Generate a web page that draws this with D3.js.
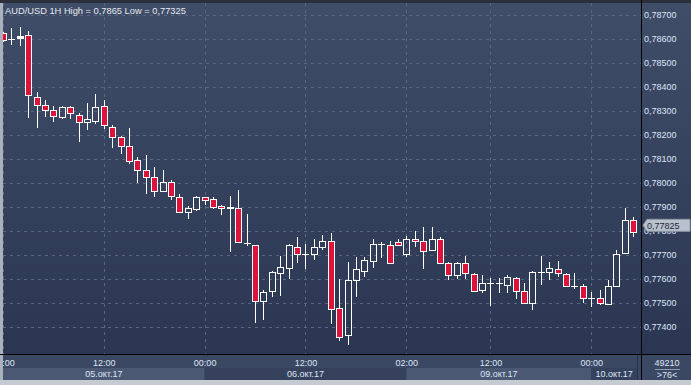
<!DOCTYPE html>
<html>
<head>
<meta charset="utf-8">
<script src="https://cdn.jsdelivr.net/npm/d3@7"></script>
<style>
  body { margin: 0; background: #c6cbd3; }
  svg { display: block; font-family: "Liberation Sans", Arial, sans-serif; }
</style>
</head>
<body>
<div id="chart"></div>
<script>
// AUD/USD 1H candles, hourly bars
const title = "AUD/USD 1H High = 0,7865 Low = 0,77325";

const open = [0.78625,0.78600,0.78604,0.78617,0.78358,0.78325,0.78304,0.78275,0.78317,0.78283,
  0.78254,0.78257,0.78321,0.78233,0.78192,0.78154,0.78096,0.78054,0.78025,0.77966,
  0.78004,0.77942,0.77879,0.77892,0.77942,0.77933,0.77904,0.77897,0.77896,0.77750,
  0.77740,0.77508,0.77550,0.77625,0.77644,0.77733,0.77704,0.77704,0.77733,0.77758,
  0.77479,0.77367,0.77596,0.77633,0.77675,0.77746,0.77742,0.77754,0.77704,0.77767,
  0.77758,0.77721,0.77767,0.77667,0.77617,0.77667,0.77621,0.77554,0.77583,0.77583,
  0.77575,0.77604,0.77550,0.77500,0.77629,0.77629,0.77642,0.77621,0.77571,0.77571,
  0.77519,0.77521,0.77496,0.77571,0.77708,0.77846];
const high = [0.78630,0.78646,0.78650,0.78635,0.78380,0.78347,0.78322,0.78322,0.78322,0.78292,
  0.78333,0.78372,0.78347,0.78243,0.78197,0.78229,0.78110,0.78118,0.78067,0.78055,
  0.78012,0.77955,0.77905,0.77946,0.77942,0.77942,0.77908,0.77946,0.77971,0.77871,
  0.77743,0.77554,0.77633,0.77696,0.77747,0.77775,0.77746,0.77767,0.77783,0.77792,
  0.77600,0.77671,0.77692,0.77692,0.77769,0.77755,0.77758,0.77767,0.77782,0.77800,
  0.77818,0.77817,0.77778,0.77673,0.77673,0.77696,0.77625,0.77617,0.77604,0.77604,
  0.77618,0.77608,0.77583,0.77633,0.77696,0.77671,0.77675,0.77625,0.77625,0.77579,
  0.77546,0.77554,0.77596,0.77721,0.77896,0.77858];
const low = [0.78590,0.78576,0.78573,0.78273,0.78232,0.78278,0.78257,0.78269,0.78267,0.78173,
  0.78223,0.78248,0.78225,0.78148,0.78123,0.78079,0.78002,0.77957,0.77941,0.77966,
  0.77932,0.77875,0.77852,0.77883,0.77908,0.77895,0.77866,0.77715,0.77750,0.77740,
  0.77419,0.77432,0.77525,0.77532,0.77602,0.77667,0.77644,0.77679,0.77721,0.77415,
  0.77344,0.77325,0.77525,0.77608,0.77646,0.77690,0.77667,0.77742,0.77694,0.77733,
  0.77644,0.77721,0.77667,0.77596,0.77600,0.77600,0.77548,0.77542,0.77490,0.77542,
  0.77542,0.77517,0.77500,0.77471,0.77575,0.77596,0.77608,0.77567,0.77558,0.77500,
  0.77483,0.77492,0.77496,0.77571,0.77704,0.77775];
const close = [0.78596,0.78600,0.78610,0.78367,0.78325,0.78304,0.78279,0.78317,0.78290,0.78254,
  0.78267,0.78317,0.78242,0.78192,0.78153,0.78092,0.78054,0.78024,0.77966,0.78004,
  0.77945,0.77879,0.77896,0.77942,0.77929,0.77900,0.77896,0.77897,0.77754,0.77750,
  0.77508,0.77546,0.77629,0.77650,0.77742,0.77704,0.77704,0.77733,0.77758,0.77475,
  0.77358,0.77596,0.77642,0.77679,0.77746,0.77746,0.77667,0.77742,0.77767,0.77758,
  0.77717,0.77767,0.77667,0.77617,0.77667,0.77625,0.77550,0.77583,0.77583,0.77583,
  0.77608,0.77550,0.77500,0.77629,0.77629,0.77646,0.77625,0.77571,0.77571,0.77521,
  0.77519,0.77500,0.77571,0.77704,0.77846,0.77796];

const lastPrice = 0.77825;
const priceTicks = [0.787,0.786,0.785,0.784,0.783,0.782,0.781,0.780,0.779,0.778,0.777,0.776,0.775,0.774];
const timeTicks = [0, 12, 24, 36, 48, 58, 70];
const timeLabels = ["00:00","12:00","00:00","12:00","02:00","12:00","00:00"];
const dayStarts = [0, 24, 48, 70];
const dayLabels = ["05.окт.17","06.окт.17","09.окт.17","10.окт.17"];
const volumeText = "49210";
const zoomText = ">76<";

const W = 691, H = 385;
const plot = { left: 3, top: 3, right: 641, bottom: 354 };

const svg = d3.select("#chart").append("svg")
  .attr("width", W).attr("height", H);

const defs = svg.append("defs");
const grad = defs.append("linearGradient").attr("id", "bg")
  .attr("x1", 0).attr("y1", 0).attr("x2", 0).attr("y2", 1);
grad.append("stop").attr("offset", "0%").attr("stop-color", "#404d68");
grad.append("stop").attr("offset", "100%").attr("stop-color", "#2b3752");
defs.append("clipPath").attr("id", "clip").append("rect")
  .attr("x", plot.left).attr("y", plot.top)
  .attr("width", plot.right - plot.left).attr("height", plot.bottom - plot.top);

// frame
svg.append("rect").attr("width", W).attr("height", H).attr("fill", "#c6cbd3");
svg.append("rect").attr("x", plot.left).attr("y", plot.top)
  .attr("width", W - plot.left).attr("height", plot.bottom - plot.top)
  .attr("fill", "url(#bg)");

// scales
const x = d3.scaleLinear().domain([0, open.length - 1]).range([2.9, 633.3]);
const y = d3.scaleLinear().domain([0.774, 0.787]).range([327.3, 15.3]);
const fmt = v => d3.format(".5f")(v).replace(".", ",");

// grid
const grid = svg.append("g").attr("clip-path", "url(#clip)")
  .attr("stroke", "#5a6783").attr("stroke-dasharray", "3,4").attr("shape-rendering", "crispEdges");
grid.selectAll("line.h").data(priceTicks).join("line").attr("class", "h")
  .attr("x1", plot.left).attr("x2", plot.right)
  .attr("y1", d => Math.round(y(d)) + 0.5).attr("y2", d => Math.round(y(d)) + 0.5);
grid.selectAll("line.v").data(timeTicks).join("line").attr("class", "v")
  .attr("y1", plot.top).attr("y2", plot.bottom)
  .attr("x1", d => Math.round(x(d)) + 0.5).attr("x2", d => Math.round(x(d)) + 0.5);

// candles: upper and lower wick separately so hollow bodies stay empty
const idx = d3.range(open.length);
const bw = 5.6;
const cx = i => Math.round(x(i)) + 0.5;
const cg = svg.append("g").attr("clip-path", "url(#clip)").attr("shape-rendering", "crispEdges");
cg.selectAll("line.up").data(idx).join("line").attr("class", "up")
  .attr("x1", cx).attr("x2", cx)
  .attr("y1", i => y(high[i])).attr("y2", i => y(Math.max(open[i], close[i])))
  .attr("stroke", "#ffffff");
cg.selectAll("line.dn").data(idx).join("line").attr("class", "dn")
  .attr("x1", cx).attr("x2", cx)
  .attr("y1", i => y(Math.min(open[i], close[i]))).attr("y2", i => y(low[i]))
  .attr("stroke", "#ffffff");
cg.selectAll("rect").data(idx).join("rect")
  .attr("x", i => cx(i) - bw / 2)
  .attr("width", bw)
  .attr("y", i => y(Math.max(open[i], close[i])))
  .attr("height", i => Math.max(0.1, Math.abs(y(open[i]) - y(close[i]))))
  .attr("fill", i => close[i] < open[i] ? "#dc143c" : "none")
  .attr("stroke", "#ffffff").attr("stroke-width", 1.2);

// title
svg.append("text").attr("x", 5).attr("y", 14)
  .attr("fill", "#e6eaf0").attr("font-size", "9.3px").text(title);

// right price axis
svg.append("g").selectAll("text").data(priceTicks).join("text")
  .attr("x", plot.right + 3).attr("y", d => y(d) + 3)
  .attr("fill", "#dde5f5").attr("font-size", "9px")
  .text(fmt);

const py = y(lastPrice);
svg.append("path")
  .attr("d", `M643,${py} L647,${py - 6} L690,${py - 6} L690,${py + 6} L647,${py + 6} Z`)
  .attr("fill", "#b9c1cd").attr("stroke", "#8d96a5");
svg.append("text").attr("x", 647).attr("y", py + 3.5)
  .attr("fill", "#1f2838").attr("font-size", "9px").text(fmt(lastPrice));

// bottom time axis
const axisTop = plot.bottom, bandTop = 368, axisBottom = 380;
svg.append("rect").attr("x", 0).attr("y", axisTop).attr("width", W).attr("height", axisBottom - axisTop)
  .attr("fill", "#3b4863");
const dayEnds = dayStarts.slice(1).map(d => x(d)).concat([637]);
svg.append("g").selectAll("rect").data(dayStarts).join("rect")
  .attr("x", (d, i) => i === 0 ? plot.left : x(d))
  .attr("y", bandTop)
  .attr("width", (d, i) => dayEnds[i] - (i === 0 ? plot.left : x(d)))
  .attr("height", axisBottom - bandTop)
  .attr("fill", (d, i) => i % 2 === 0 ? "#4a5873" : "#36425d");
svg.append("g").selectAll("text").data(dayStarts).join("text")
  .attr("x", (d, i) => ((i === 0 ? plot.left : x(d)) + dayEnds[i]) / 2)
  .attr("y", 377).attr("text-anchor", "middle")
  .attr("fill", "#dde5f5").attr("font-size", "9px")
  .text((d, i) => dayLabels[i]);
svg.append("g").selectAll("text").data(timeTicks).join("text")
  .attr("x", d => x(d) + 0.5).attr("y", 366).attr("text-anchor", "middle")
  .attr("fill", "#dde5f5").attr("font-size", "9px")
  .text((d, i) => timeLabels[i]);
svg.append("line").attr("x1", 637.5).attr("x2", 637.5).attr("y1", axisTop).attr("y2", axisBottom)
  .attr("stroke", "#27314a");

// left frame, top edge, separators
svg.append("rect").attr("x", 0).attr("y", 0).attr("width", plot.left).attr("height", axisBottom).attr("fill", "#aab1bd");
svg.append("rect").attr("x", 0).attr("y", 0).attr("width", W).attr("height", plot.top).attr("fill", "#2a2f3a");
svg.append("line").attr("x1", 0).attr("x2", W).attr("y1", axisTop + 0.5).attr("y2", axisTop + 0.5)
  .attr("stroke", "#000").attr("shape-rendering", "crispEdges");
svg.append("line").attr("x1", plot.right + 0.5).attr("x2", plot.right + 0.5).attr("y1", 0).attr("y2", axisBottom)
  .attr("stroke", "#000").attr("shape-rendering", "crispEdges");

// volume / zoom box
svg.append("text").attr("x", 667).attr("y", 366).attr("text-anchor", "middle")
  .attr("fill", "#dde5f5").attr("font-size", "9px").text(volumeText);
svg.append("line").attr("x1", 655).attr("x2", 680).attr("y1", 369.5).attr("y2", 369.5)
  .attr("stroke", "#8e9ab0");
svg.append("text").attr("x", 667).attr("y", 378).attr("text-anchor", "middle")
  .attr("fill", "#dde5f5").attr("font-size", "9px").text(zoomText);
</script>
</body>
</html>
